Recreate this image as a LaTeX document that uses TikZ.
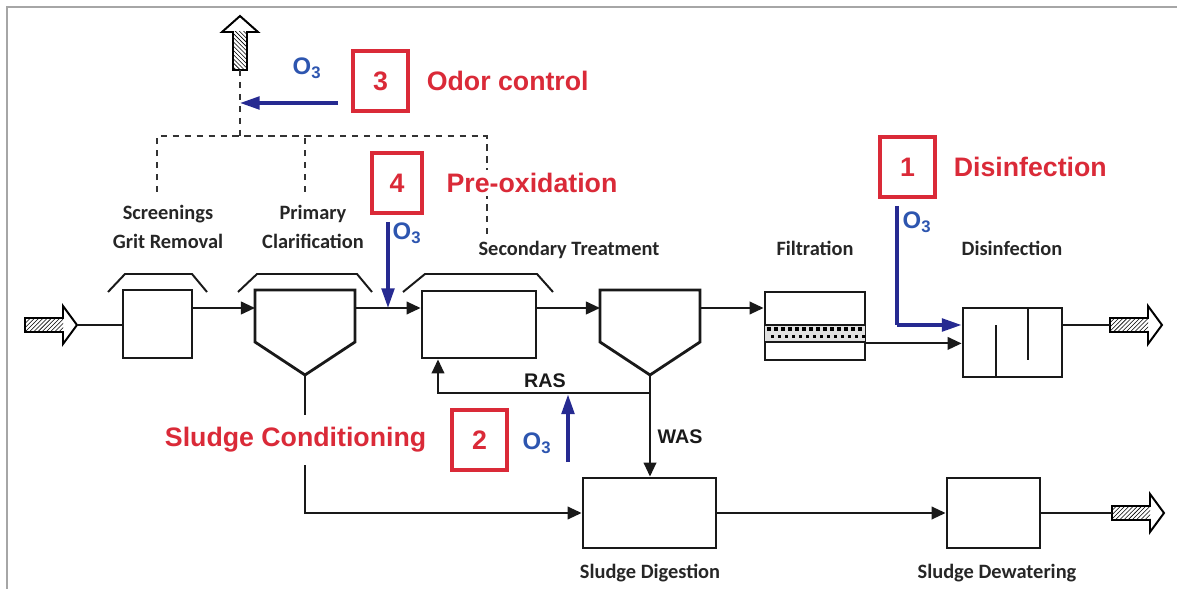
\documentclass[tikz,border=0pt]{standalone}
\usepackage{fontspec}
\setmainfont{Liberation Sans}
\newfontfamily\calibri{Carlito}
\usepackage{tikz}
\usetikzlibrary{arrows.meta,positioning,calc,patterns}
\definecolor{ozred}{RGB}{218,42,56}
\definecolor{ozblue}{RGB}{38,42,145}
\definecolor{ozlabel}{RGB}{45,85,175}

\begin{document}
\begin{tikzpicture}[x=0.025cm,y=-0.025cm,
  unit/.style={draw=black!90,line width=2pt,inner sep=0pt},
  flow/.style={black!90,line width=1.4pt},
  tip/.style={-{Triangle[length=10pt,width=9pt]}},
  ozarrow/.style={ozblue,line width=2.4pt,-{Triangle[length=14pt,width=9pt]}},
  duct/.style={black!80,line width=1.2pt,dash pattern=on 4.5pt off 4pt},
  bracket/.style={black!90,line width=1.4pt},
  numbox/.style={draw=ozred,line width=2.2pt,text=ozred,minimum width=1.375cm,minimum height=1.5cm,font=\bfseries\fontsize{19}{19}\selectfont},
  redlbl/.style={text=ozred,inner sep=0pt,font=\bfseries\fontsize{19}{19}\selectfont},
  steplbl/.style={text=black!85,align=center,font=\calibri\bfseries\fontsize{14.5}{20.5}\selectfont},
  streamlbl/.style={text=black!90,font=\bfseries\fontsize{14}{14}\selectfont},
  o3/.style={text=ozlabel,font=\bfseries\fontsize{17}{17}\selectfont}]
\useasboundingbox (0,0) rectangle (1177,589);

% Frame
\draw[gray!70,line width=1.5pt] (7,589) -- (7,7) -- (1177,7);

% Process units
\node[unit,minimum width=1.725cm,minimum height=1.7cm] (screen) at (157.5,324) {};
\node[unit,minimum width=2.85cm,minimum height=1.675cm] (aer) at (479,324.5) {};
\node[unit,minimum width=2.5cm,minimum height=1.7cm] (filter) at (815,326) {};
\node[unit,minimum width=2.475cm,minimum height=1.725cm] (disinf) at (1012.5,342.5) {};
\node[unit,minimum width=3.325cm,minimum height=1.75cm] (digest) at (649.5,513) {};
\node[unit,minimum width=2.325cm,minimum height=1.75cm] (dewater) at (993.5,513) {};

% Clarifiers
\foreach \c/\n in {305/pc,650/sc} {
  \draw[unit,line join=miter] (\c-50,290) -- (\c+50,290) -- (\c+50,342) -- (\c,375) -- (\c-50,342) -- cycle;
  \coordinate (\n-in) at (\c-50,308);
  \coordinate (\n-out) at (\c+50,308);
  \coordinate (\n-bot) at (\c,375);
}

% Covers
\foreach \a/\b/\c/\d in {108/125/192/207, 238/257/357/372, 403/425/537/553}
  \draw[bracket] (\a,292) -- (\b,274) -- (\c,274) -- (\d,292);

% Filter media and baffles
\fill[black!12] (765,325) rectangle (865,342);
\foreach \x in {769,776,...,861} {
  \fill (\x-1.8,327.2) rectangle (\x+1.8,330.8);
  \fill (\x+1.7,334.7) rectangle (\x+5.3,338.3);
}
\draw[flow] (765,325) -- (865,325) (765,342) -- (865,342);
\draw[flow] (996,377) -- (996,325);
\draw[flow] (1028,308) -- (1028,360);

% Hatched inlet / outlet arrows
\foreach \x/\y/\n in {25/325/inlet, 1110/325/outA, 1112/513/outB} {
  \fill[pattern=north east lines] (\x,\y-7) rectangle (\x+38,\y+7);
  \draw[line width=1.4pt,line join=miter] (\x,\y-7) -- (\x+38,\y-7) -- (\x+38,\y-19) -- (\x+52,\y) -- (\x+38,\y+19) -- (\x+38,\y+7) -- (\x,\y+7) -- cycle;
  \coordinate (\n-tail) at (\x,\y);
  \coordinate (\n-tip) at (\x+52,\y);
}

% Vent stack
\fill[pattern=north west lines] (233,32) rectangle (247,70);
\draw[line width=1.4pt,line join=miter] (233,70) -- (233,32) -- (222,32) -- (240,16) -- (258,32) -- (247,32) -- (247,70) -- cycle;
\coordinate (vent) at (240,70);

% Main flow
\draw[flow] (inlet-tip) -- (screen.west |- inlet-tip);
\draw[flow,tip] (screen.east |- pc-in) -- (pc-in);
\draw[flow,tip] (pc-out) -- (aer.west |- pc-out);
\draw[flow,tip] (aer.east |- sc-in) -- (sc-in);
\draw[flow,tip] (sc-out) -- (filter.west |- sc-out);
\coordinate (filt-out) at ([yshift=0.45cm]filter.south east);
\draw[flow,tip] (filt-out) -- (disinf.west |- filt-out);
\draw[flow] (disinf.east |- outA-tail) -- (outA-tail);

% Sludge lines
\coordinate (ras) at (650,393);
\draw[flow] (sc-bot) -- (ras);
\draw[flow,tip] (ras) -| ([xshift=-1.025cm]aer.south);
\draw[flow,tip] (ras) -- (ras |- digest.north);
\draw[flow,tip] (pc-bot) |- (digest.west);
\draw[flow,tip] (digest) -- (dewater);
\draw[flow] (dewater.east |- outB-tail) -- (outB-tail);

\node[streamlbl] (raslbl) at (545,381) {RAS};
\node[streamlbl] (waslbl) at (680,437) {WAS};

% Off-gas ducts
\coordinate (hub) at (240,136);
\coordinate (d1) at (157,192);
\coordinate (d2) at (305,192);
\coordinate (d3) at (487,235);
\draw[duct] (vent) -- (hub);
\draw[duct] (d1) |- (d3 |- hub) -- (d3);
\draw[duct] (d2) -- (d2 |- hub);

% Ozone application points
\node[numbox] (box1) at (907.5,167) {1};
\node[numbox] (box2) at (479.5,440) {2};
\node[numbox] (box3) at (380.5,81) {3};
\node[numbox,minimum width=1.25cm] (box4) at (397,183) {4};

\node[redlbl,right=0.425cm of box1] (lbl1) {Disinfection};
\node[redlbl,left=0.6cm of box2,fill=white,minimum height=1.25cm] (lbl2) {Sludge Conditioning};
\node[redlbl,right=0.425cm of box3] (lbl3) {Odor control};
\node[redlbl,right=0.5cm of box4,fill=white,inner sep=2pt] (lbl4) {Pre-oxidation};

\coordinate (o3d) at (897,206);
\coordinate (o3r) at (568,462);
\coordinate (o3o) at (338,103);
\coordinate (o3p) at (388,222);
\draw[ozarrow,-] (o3d) -- (o3d |- outA-tail);
\draw[ozarrow] (o3d |- outA-tail) -- (disinf.west |- outA-tail);
\draw[ozarrow] (o3r) -- ([yshift=-1pt]o3r |- ras);
\draw[ozarrow] (o3o) -- (vent |- o3o);
\draw[ozarrow] (o3p) -- (o3p |- pc-out);

\node[o3] (o3lbl1) at (917,222) {O\textsubscript{3}};
\node[o3] (o3lbl2) at (537,443) {O\textsubscript{3}};
\node[o3] (o3lbl3) at (307,68) {O\textsubscript{3}};
\node[o3] (o3lbl4) at (407,233) {O\textsubscript{3}};

% Unit labels
\node[steplbl] (screenlbl) at (168,227) {Screenings\\Grit Removal};
\node[steplbl] (pclbl) at (313,227) {Primary\\Clarification};
\node[steplbl] (seclbl) at (569,250) {Secondary Treatment};
\node[steplbl] (filtlbl) at (815,248) {Filtration};
\node[steplbl] (dislbl) at (1012,248) {Disinfection};
\node[steplbl] (diglbl) at (650,573) {Sludge Digestion};
\node[steplbl] (dewlbl) at (997,573) {Sludge Dewatering};
\end{tikzpicture}
\end{document}
